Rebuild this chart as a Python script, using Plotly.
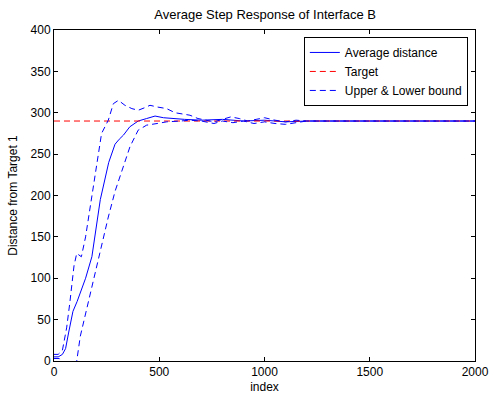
import plotly.graph_objects as go

# Average distance
mean_x = [0, 20, 40, 55, 70, 90, 110, 130, 150, 180, 220, 260, 290, 310, 330, 360, 400, 440, 480, 520, 560, 620, 700, 800, 900, 1000, 1100, 1200, 1300, 1500, 2000]
mean_y = [5, 5, 8, 15, 35, 60, 72, 85, 100, 126, 195, 240, 262, 268, 273, 283, 290, 293, 296, 294, 293, 292, 291, 292, 290, 291, 289, 290, 290, 290, 290]

# Upper bound
upper_x = [0, 20, 40, 60, 75, 95, 108, 118, 130, 150, 190, 226, 258, 282, 306, 337, 370, 400, 430, 456, 490, 535, 575, 646, 684, 720, 760, 800, 840, 880, 920, 960, 1000, 1050, 1100, 1150, 1200, 1300, 1500, 2000]
upper_y = [8, 8, 13, 40, 70, 115, 130, 128, 126, 150, 215, 275, 291, 311, 315, 309, 305, 303, 306, 309, 307, 305, 300, 297, 293, 291, 289, 292, 295, 293, 290, 292, 294, 291, 289, 291, 290, 290, 290, 290]

# Lower bound
lower_x = [0, 25, 50, 75, 100, 108, 125, 147, 175, 203, 230, 258, 290, 313, 340, 361, 400, 440, 490, 535, 600, 646, 700, 760, 800, 850, 900, 950, 1000, 1050, 1100, 1150, 1200, 1300, 1500, 2000]
lower_y = [3, 3, -10, -20, -8, 0, 30, 54, 85, 114, 143, 174, 205, 223, 245, 259, 279, 285, 287, 289, 290, 291, 290, 287, 290, 288, 290, 287, 289, 287, 286, 288, 290, 290, 290, 290]

target_x = [0, 2000]
target_y = [290, 290]

x_ticks = [0, 500, 1000, 1500, 2000]
y_ticks = [0, 50, 100, 150, 200, 250, 300, 350, 400]

FONT = "Liberation Sans, Arial, sans-serif"

fig = go.Figure()
fig.add_trace(go.Scatter(x=mean_x, y=mean_y, mode="lines", name="Average distance",
                         line=dict(color="#0000ff", width=1)))
fig.add_trace(go.Scatter(x=target_x, y=target_y, mode="lines", name="Target",
                         line=dict(color="#ff0000", width=1, dash="6px,4px")))
fig.add_trace(go.Scatter(x=upper_x, y=upper_y, mode="lines", name="Upper & Lower bound",
                         legendgroup="b", line=dict(color="#0000ff", width=1, dash="6px,4px")))
fig.add_trace(go.Scatter(x=lower_x, y=lower_y, mode="lines", name="Upper & Lower bound",
                         legendgroup="b", showlegend=False,
                         line=dict(color="#0000ff", width=1, dash="6px,4px")))

axis_common = dict(showgrid=False, zeroline=False, showline=True, linecolor="black",
                   linewidth=1, mirror="ticks", ticks="inside", ticklen=4,
                   tickcolor="black", automargin=False,
                   tickfont=dict(family=FONT, size=12, color="black"))

fig.update_layout(
    width=491, height=396,
    margin=dict(l=54, r=16, t=30, b=35),
    paper_bgcolor="white", plot_bgcolor="white",
    font=dict(family=FONT, size=12, color="black"),
    title=dict(text="Average Step Response of Interface B", x=0.54, xanchor="center",
               y=0.964, yanchor="middle", font=dict(family=FONT, size=13, color="black")),
    xaxis=dict(range=[0, 2000], tickvals=x_ticks, title=dict(text="index", standoff=4,
               font=dict(family=FONT, size=12)), **axis_common),
    yaxis=dict(range=[0, 400], tickvals=y_ticks, title=dict(text="Distance from Target 1", standoff=10,
               font=dict(family=FONT, size=12)), **axis_common),
    legend=dict(x=0.983, xanchor="right", y=0.979, yanchor="top",
                bordercolor="black", borderwidth=1, bgcolor="white",
                font=dict(family=FONT, size=12), tracegroupgap=0),
    showlegend=True,
)

fig.write_html("out.html")
